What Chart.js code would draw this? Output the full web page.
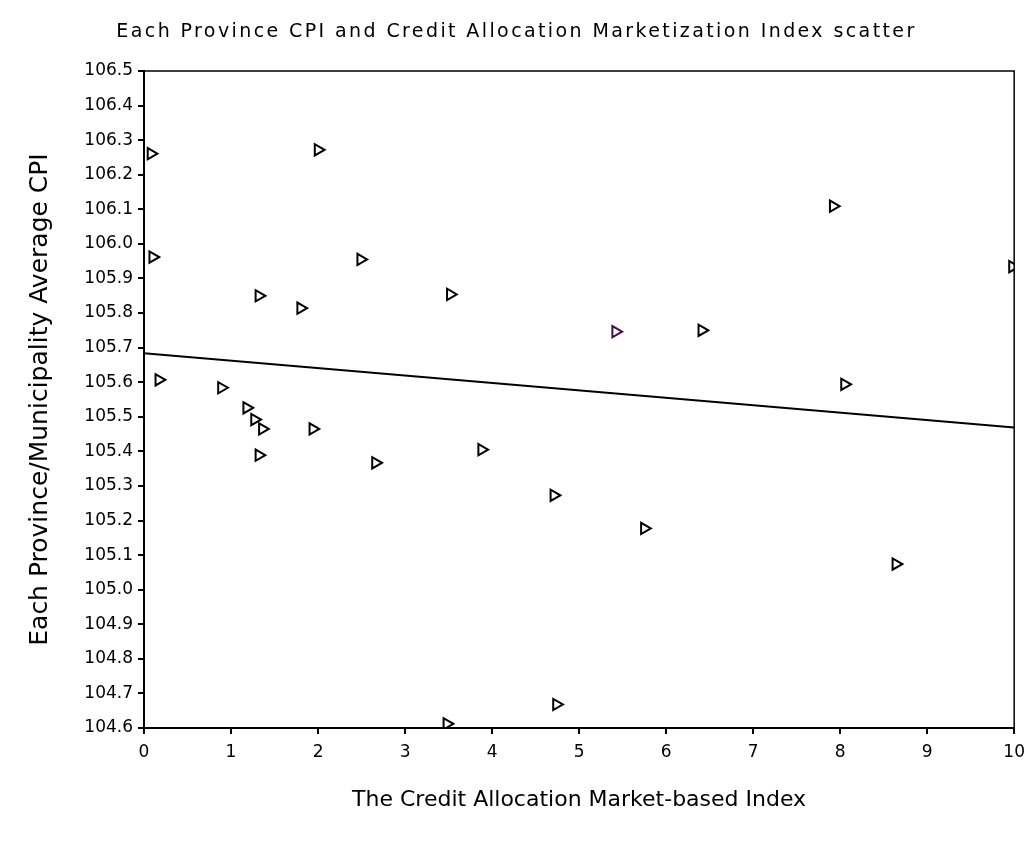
<!DOCTYPE html>
<html>
<head>
<meta charset="utf-8">
<script src="https://cdn.jsdelivr.net/npm/chart.js@4.4.1/dist/chart.umd.min.js"></script>
<style>
  html, body { margin: 0; padding: 0; background: #fff; }
  #wrap { width: 1033px; height: 846px; }
</style>
</head>
<body>
<div id="wrap"><canvas id="chart1" width="1033" height="846"></canvas></div>
<script>
// credit allocation market-based index (x) vs average CPI (y), one point per province
const provX = [0.08, 0.10, 0.17, 0.89, 1.18, 1.27, 1.36, 1.32, 1.32, 1.80, 1.94, 2.00,
  2.49, 2.66, 3.48, 3.52, 3.88, 4.71, 4.74, 5.75, 6.41, 7.92, 8.05, 8.64, 9.98];
const provY = [106.261, 105.962, 105.607, 105.584, 105.526, 105.492, 105.465, 105.389, 105.850, 105.814, 105.465, 106.272,
  105.955, 105.367, 104.612, 105.854, 105.405, 105.273, 104.668, 105.177, 105.750, 106.109, 105.594, 105.074, 105.934];
// the one highlighted point
const hlX = [5.42];
const hlY = [105.746];
// linear trend line ends
const trendX = [0, 10];
const trendY = [105.684, 105.469];

const xTicks = [0, 1, 2, 3, 4, 5, 6, 7, 8, 9, 10];
const yMin = 104.6, yMax = 106.5, yStep = 0.1;

const chartTitle = 'Each Province CPI and Credit Allocation Marketization Index scatter';
const font = "'DejaVu Sans', sans-serif";

const toPts = (xs, ys) => xs.map((x, i) => ({ x: x, y: ys[i] }));

// frame around the plot area + the spaced-out title on top
const framePlugin = {
  id: 'frame',
  afterDatasetsDraw(chart) {
    const { ctx, chartArea: a } = chart;
    ctx.save();
    ctx.strokeStyle = '#000';
    ctx.lineWidth = 1.5;
    ctx.strokeRect(a.left, a.top, a.right - a.left, a.bottom - a.top);
    ctx.restore();
  },
  afterDraw(chart) {
    const ctx = chart.ctx;
    ctx.save();
    ctx.font = '19px ' + font;
    ctx.letterSpacing = '2.4px';
    ctx.fillStyle = '#000';
    ctx.textAlign = 'center';
    ctx.textBaseline = 'middle';
    ctx.fillText(chartTitle, chart.width / 2, 32);
    ctx.restore();
  }
};

document.addEventListener('DOMContentLoaded', function () {
  const ctx = document.getElementById('chart1').getContext('2d');
  new Chart(ctx, {
    type: 'scatter',
    data: {
      datasets: [
        {
          data: toPts(provX, provY),
          pointStyle: 'triangle',
          rotation: 90,
          pointRadius: 6.5,
          pointHoverRadius: 6.5,
          borderWidth: 2,
          borderColor: '#000',
          backgroundColor: 'rgba(255,255,255,0)'
        },
        {
          data: toPts(hlX, hlY),
          pointStyle: 'triangle',
          rotation: 90,
          pointRadius: 6.5,
          borderWidth: 2,
          borderColor: '#4a0a4a',
          backgroundColor: 'rgba(255,255,255,0)'
        },
        {
          type: 'line',
          data: toPts(trendX, trendY),
          borderColor: '#000',
          borderWidth: 2,
          pointRadius: 0,
          fill: false
        }
      ]
    },
    options: {
      responsive: false,
      animation: false,
      layout: { padding: { left: 0, right: 18, top: 71, bottom: 0 } },
      plugins: {
        legend: { display: false },
        tooltip: { enabled: false },
        title: { display: false }
      },
      scales: {
        x: {
          type: 'linear',
          min: 0,
          max: 10,
          afterBuildTicks: s => { s.ticks = xTicks.map(v => ({ value: v })); },
          afterFit: s => { s.height = 118; },
          grid: { display: true, drawOnChartArea: false, drawTicks: true, tickLength: 6, color: '#000', lineWidth: 2 },
          border: { display: true, color: '#000', width: 2 },
          ticks: { color: '#000', padding: 8, font: { family: font, size: 17 }, maxRotation: 0 },
          title: {
            display: true,
            text: 'The Credit Allocation Market-based Index',
            color: '#000',
            font: { family: font, size: 22, lineHeight: 1.2 },
            padding: { top: 0, bottom: 33 }
          }
        },
        y: {
          type: 'linear',
          min: yMin,
          max: yMax,
          ticks: {
            stepSize: yStep,
            color: '#000',
            padding: 5,
            font: { family: font, size: 17 },
            callback: v => Number(v).toFixed(1)
          },
          afterFit: s => { s.width = 144; },
          grid: { display: true, drawOnChartArea: false, drawTicks: true, tickLength: 6, color: '#000', lineWidth: 2 },
          border: { display: true, color: '#000', width: 2 },
          title: {
            display: true,
            text: 'Each Province/Municipality Average CPI',
            color: '#000',
            font: { family: font, size: 25, lineHeight: 1.2 },
            padding: { top: 25, bottom: 0 }
          }
        }
      }
    },
    plugins: [framePlugin]
  });
});
</script>
</body>
</html>
